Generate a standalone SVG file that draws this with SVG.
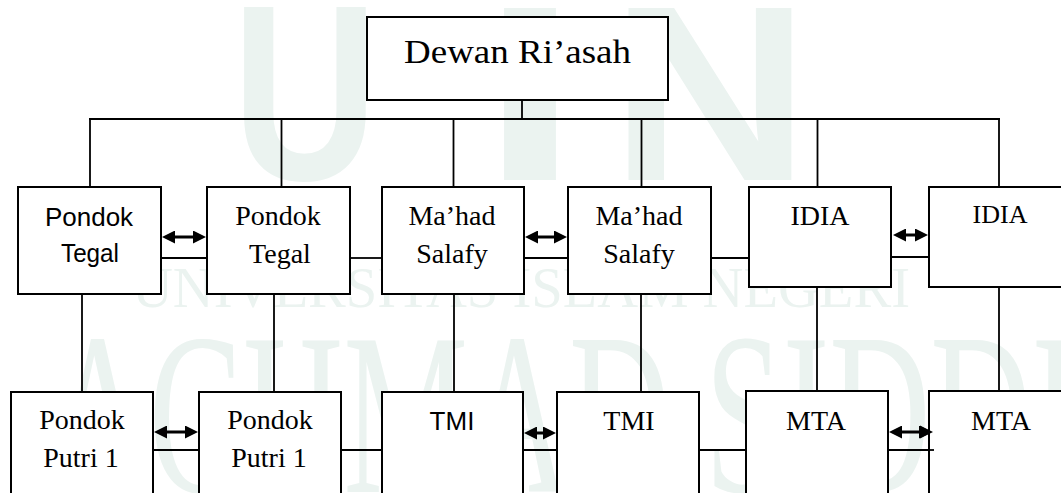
<svg xmlns="http://www.w3.org/2000/svg" width="1061" height="493" viewBox="0 0 1061 493">
  <defs>
    <style>
      .bg { fill: #ffffff; }
      .wm { fill: #ebf3f0; }
      .wm-sans { font-family: "Liberation Sans", Arial, sans-serif; font-weight: bold; }
      .wm-serif { font-family: "Liberation Serif", "Times New Roman", serif; }
      .box { fill: #ffffff; stroke: #000000; stroke-width: 2; }
      .ln { stroke: #000000; stroke-width: 1.8; fill: none; }
      .arr { stroke: #000000; stroke-width: 3; fill: none; marker-start: url(#head); marker-end: url(#head); }
      .serif { font-family: "Liberation Serif", "Times New Roman", serif; font-size: 28px; fill: #000000; text-anchor: middle; }
      .sans { font-family: "Liberation Sans", Arial, sans-serif; font-size: 26px; fill: #000000; text-anchor: middle; }
    </style>
    <marker id="head" viewBox="0 0 13 13" markerWidth="13" markerHeight="13" markerUnits="userSpaceOnUse" refX="8" refY="6.5" orient="auto-start-reverse">
      <path d="M0,0 L13,6.5 L0,13 Z" fill="#000000"/>
    </marker>
  </defs>

  <rect class="bg" x="0" y="0" width="1061" height="493"/>

  <!-- faint background lettering -->
  <g id="watermark" class="wm">
    <text class="wm-sans" x="232" y="180" style="font-size:250px" textLength="146" lengthAdjust="spacingAndGlyphs">U</text>
    <text class="wm-sans" x="480" y="180" style="font-size:250px" textLength="100" lengthAdjust="spacingAndGlyphs">I</text>
    <text class="wm-sans" x="610" y="180" style="font-size:250px" textLength="200" lengthAdjust="spacingAndGlyphs">N</text>
    <text class="wm-serif" x="132" y="307" style="font-size:58px" textLength="778" lengthAdjust="spacingAndGlyphs">UNIVERSITAS ISLAM NEGERI</text>
    <text class="wm-serif" x="48" y="492" style="font-size:232px" textLength="1030" lengthAdjust="spacingAndGlyphs">ACHMAD SIDDI</text>
  </g>

  <!-- tree lines from the board down to each unit -->
  <g id="connectors">
    <line class="ln" x1="522" y1="100" x2="522" y2="119"/>
    <line class="ln" x1="89" y1="119" x2="1000" y2="119"/>
    <line class="ln" x1="90" y1="119" x2="90" y2="187"/>
    <line class="ln" x1="281.5" y1="119" x2="281.5" y2="187"/>
    <line class="ln" x1="453.5" y1="119" x2="453.5" y2="187"/>
    <line class="ln" x1="641.5" y1="119" x2="641.5" y2="187"/>
    <line class="ln" x1="817.5" y1="119" x2="817.5" y2="187"/>
    <line class="ln" x1="999" y1="119" x2="999" y2="187"/>

    <line class="ln" x1="82" y1="294" x2="82" y2="392"/>
    <line class="ln" x1="274" y1="294" x2="274" y2="392"/>
    <line class="ln" x1="454" y1="294" x2="454" y2="392"/>
    <line class="ln" x1="641" y1="294" x2="641" y2="392"/>
    <line class="ln" x1="817" y1="287" x2="817" y2="391"/>
    <line class="ln" x1="999" y1="287" x2="999" y2="391"/>

    <!-- side links, middle row -->
    <line class="ln" x1="161" y1="258" x2="207" y2="258"/>
    <line class="ln" x1="350" y1="258" x2="382" y2="258"/>
    <line class="ln" x1="524" y1="258" x2="568" y2="258"/>
    <line class="ln" x1="711" y1="258" x2="749" y2="258"/>
    <line class="ln" x1="891" y1="257" x2="929" y2="257"/>

    <!-- side links, bottom row -->
    <line class="ln" x1="153" y1="450" x2="199" y2="450"/>
    <line class="ln" x1="341" y1="450" x2="382" y2="450"/>
    <line class="ln" x1="522" y1="450" x2="557" y2="450"/>
    <line class="ln" x1="699" y1="450" x2="746" y2="450"/>
    <line class="ln" x1="888" y1="450" x2="934" y2="450"/>

    <!-- two-way arrows between paired units -->
    <line class="arr" x1="167" y1="237" x2="201" y2="237"/>
    <line class="arr" x1="530" y1="237" x2="562" y2="237"/>
    <line class="arr" x1="898" y1="235" x2="923" y2="235"/>
    <line class="arr" x1="159" y1="432" x2="193" y2="432"/>
    <line class="arr" x1="529" y1="433" x2="551" y2="433"/>
    <line class="arr" x1="894" y1="432" x2="927" y2="432"/>
  </g>

  <g id="dewan-riasah">
    <rect class="box" x="367" y="17" width="301" height="83"/>
    <text class="serif" x="517.5" y="63" style="font-size:34px" textLength="227" lengthAdjust="spacingAndGlyphs">Dewan Ri’asah</text>
  </g>

  <g id="pondok-tegal-1">
    <rect class="box" x="18" y="187" width="143" height="107"/>
    <text class="sans" x="89" y="226">Pondok</text>
    <text class="sans" x="90" y="262" textLength="58" lengthAdjust="spacingAndGlyphs">Tegal</text>
  </g>
  <g id="pondok-tegal-2">
    <rect class="box" x="207" y="187" width="143" height="107"/>
    <text class="serif" x="278" y="225">Pondok</text>
    <text class="serif" x="280" y="263">Tegal</text>
  </g>
  <g id="mahad-salafy-1">
    <rect class="box" x="382" y="187" width="142" height="107"/>
    <text class="serif" x="452" y="225">Ma’had</text>
    <text class="serif" x="452" y="263">Salafy</text>
  </g>
  <g id="mahad-salafy-2">
    <rect class="box" x="568" y="187" width="143" height="107"/>
    <text class="serif" x="639" y="225">Ma’had</text>
    <text class="serif" x="639" y="263">Salafy</text>
  </g>
  <g id="idia-1">
    <rect class="box" x="749" y="187" width="142" height="100"/>
    <text class="serif" x="820" y="225">IDIA</text>
  </g>
  <g id="idia-2">
    <rect class="box" x="929" y="187" width="145" height="100"/>
    <text class="serif" x="1000" y="223" style="font-size:26px">IDIA</text>
  </g>

  <g id="pondok-putri-1a">
    <rect class="box" x="11" y="392" width="142" height="115"/>
    <text class="serif" x="82" y="429">Pondok</text>
    <text class="serif" x="81" y="467">Putri 1</text>
  </g>
  <g id="pondok-putri-1b">
    <rect class="box" x="199" y="392" width="142" height="115"/>
    <text class="serif" x="270" y="429">Pondok</text>
    <text class="serif" x="269" y="467">Putri 1</text>
  </g>
  <g id="tmi-1">
    <rect class="box" x="382" y="392" width="141" height="115"/>
    <text class="sans" x="452" y="430">TMI</text>
  </g>
  <g id="tmi-2">
    <rect class="box" x="557" y="392" width="142" height="115"/>
    <text class="serif" x="629" y="430">TMI</text>
  </g>
  <g id="mta-1">
    <rect class="box" x="746" y="391" width="142" height="116"/>
    <text class="serif" x="816" y="430">MTA</text>
  </g>
  <g id="mta-2">
    <rect class="box" x="929" y="391" width="145" height="116"/>
    <text class="serif" x="1001" y="430">MTA</text>
  </g>

  <!-- short overlap drawn on top of the last box -->
  <line class="ln" x1="929" y1="450" x2="934" y2="450"/>
  <path d="M933,432 L920,425.5 L920,438.5 Z" fill="#000000"/>
</svg>
